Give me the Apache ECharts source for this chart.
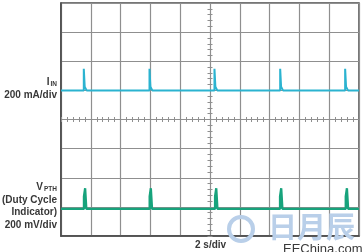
<!DOCTYPE html>
<html><head><meta charset="utf-8">
<script src="https://cdn.jsdelivr.net/npm/echarts@6/dist/echarts.min.js"></script>
<style>html,body{margin:0;padding:0;background:#fff}#c{width:363px;height:252px}</style>
</head><body><div id="c"></div>
<script>
// Time axis (seconds), 10 divisions of 2 s
const xMin = 0, xMax = 20, xDiv = 2;
// Vertical scale in divisions (8 divisions)
const yMin = 0, yMax = 8, yDiv = 1;

// I_IN trace [time s, level div]
const iinTrace = [
  [0,5.0],[1.53,5.0],[1.53,5.74],[1.57,5.74],[1.59,5.13],[1.70,5.13],[1.72,5.0],
  [5.94,5.0],[5.94,5.74],[5.98,5.74],[6.00,5.13],[6.11,5.13],[6.13,5.0],
  [10.30,5.0],[10.30,5.74],[10.34,5.74],[10.36,5.13],[10.47,5.13],[10.49,5.0],
  [14.71,5.0],[14.71,5.74],[14.75,5.74],[14.77,5.13],[14.88,5.13],[14.90,5.0],
  [19.07,5.0],[19.07,5.74],[19.11,5.74],[19.13,5.13],[19.24,5.13],[19.26,5.0],
  [20,5.0]
];
// V_PTH trace [time s, level div]
const vpthTrace = [
  [0,0.93],[1.54,0.93],[1.54,1.36],[1.62,1.36],[1.62,1.64],[1.68,1.64],[1.70,0.93],
  [5.95,0.93],[5.95,1.36],[6.03,1.36],[6.03,1.64],[6.09,1.64],[6.11,0.93],
  [10.34,0.93],[10.34,1.36],[10.42,1.36],[10.42,1.64],[10.48,1.64],[10.50,0.93],
  [14.70,0.93],[14.70,1.36],[14.78,1.36],[14.78,1.64],[14.84,1.64],[14.86,0.93],
  [19.11,0.93],[19.11,1.36],[19.19,1.36],[19.19,1.64],[19.25,1.64],[19.27,0.93],
  [20,0.93]
];
const xTitle = '2 s/div';

const chart = echarts.init(document.getElementById('c'), null, {renderer:'canvas'});
const gridCol = '#8f8f8f', borderCol = '#4a4a4a', txt = '#383838';
const G = {left:61, right:4, top:3, bottom:16};
const gw = 363 - G.left - G.right, gh = 252 - G.top - G.bottom;
const FF = 'Liberation Sans', FS = 10;

function centerX(inside){
  return {type:'value', min:-10, max:10, interval:2, position:'bottom', offset:-gh/2,
    axisLine:{show:false}, axisLabel:{show:false}, splitLine:{show:false},
    axisTick:{show:true, inside:inside, length:2.5, lineStyle:{color:gridCol,width:1}},
    minorTick:{show:true, splitNumber:5, length:2.5, lineStyle:{color:gridCol,width:1}}};
}
function centerY(inside){
  return {type:'value', min:-4, max:4, interval:1, position:'left', offset:-gw/2,
    axisLine:{show:false}, axisLabel:{show:false}, splitLine:{show:false},
    axisTick:{show:true, inside:inside, length:2.5, lineStyle:{color:gridCol,width:1}},
    minorTick:{show:true, splitNumber:5, length:2.5, lineStyle:{color:gridCol,width:1}}};
}
function lbl(t, top){
  return {type:'text', right:306, top:top, style:{text:t, fontSize:FS, fontWeight:'bold', fill:txt, fontFamily:FF}};
}
function sub(main, s, top){
  return {type:'text', right:306, top:top, style:{rich:{
    a:{fontSize:FS,fontWeight:'bold',fill:txt,fontFamily:FF},
    s:{fontSize:6.5,fontWeight:'bold',fill:txt,fontFamily:FF,padding:[4,0,0,1]}}, text:'{a|'+main+'}{s|'+s+'}'}};
}

chart.setOption({
  animation:false,
  grid:{left:G.left, right:G.right, top:G.top, bottom:G.bottom, show:true, borderColor:borderCol, borderWidth:1.5},
  xAxis:[
    {type:'value', min:xMin, max:xMax, interval:xDiv,
     axisLine:{show:true, lineStyle:{color:borderCol,width:1.5}}, axisTick:{show:false}, axisLabel:{show:false},
     splitLine:{show:true, lineStyle:{color:gridCol, width:1.2}}},
    centerX(true), centerX(false)
  ],
  yAxis:[
    {type:'value', min:yMin, max:yMax, interval:yDiv,
     axisLine:{show:true, lineStyle:{color:borderCol,width:1.5}}, axisTick:{show:false}, axisLabel:{show:false},
     splitLine:{show:true, lineStyle:{color:gridCol, width:1.2}}},
    centerY(true), centerY(false)
  ],
  series:[
    {type:'line', data:iinTrace, showSymbol:false, xAxisIndex:0, yAxisIndex:0,
     lineStyle:{color:'#2bb3d0', width:2}, z:5},
    {type:'line', data:vpthTrace, showSymbol:false, xAxisIndex:0, yAxisIndex:0,
     lineStyle:{color:'#17a37c', width:2.3}, z:5}
  ],
  graphic:[
    sub('I','IN',77),
    lbl('200 mA/div',90),
    sub('V','PTH',182),
    lbl('(Duty Cycle',195),
    lbl('Indicator)',207),
    lbl('200 mV/div',220),
    {type:'text', left:195, top:240, style:{text:xTitle, fontSize:FS, fontWeight:'bold', fill:txt, fontFamily:FF}},
    // watermark
    {type:'circle', shape:{cx:241, cy:229, r:12}, style:{fill:'none', stroke:'#b9cfe9', lineWidth:4}, z:20},
    {type:'text', left:268, top:212, style:{text:'日月辰', fontSize:29, fontWeight:'bold', fill:'#b9cfe9', fontFamily:'Noto Sans CJK SC'}, z:20},
    {type:'text', left:282, top:242, style:{text:'EEChina.com', fontSize:13, fill:'#3a3a3a', stroke:'#fff', lineWidth:2, fontFamily:'Liberation Sans'}, z:21}
  ]
});
</script></body></html>
